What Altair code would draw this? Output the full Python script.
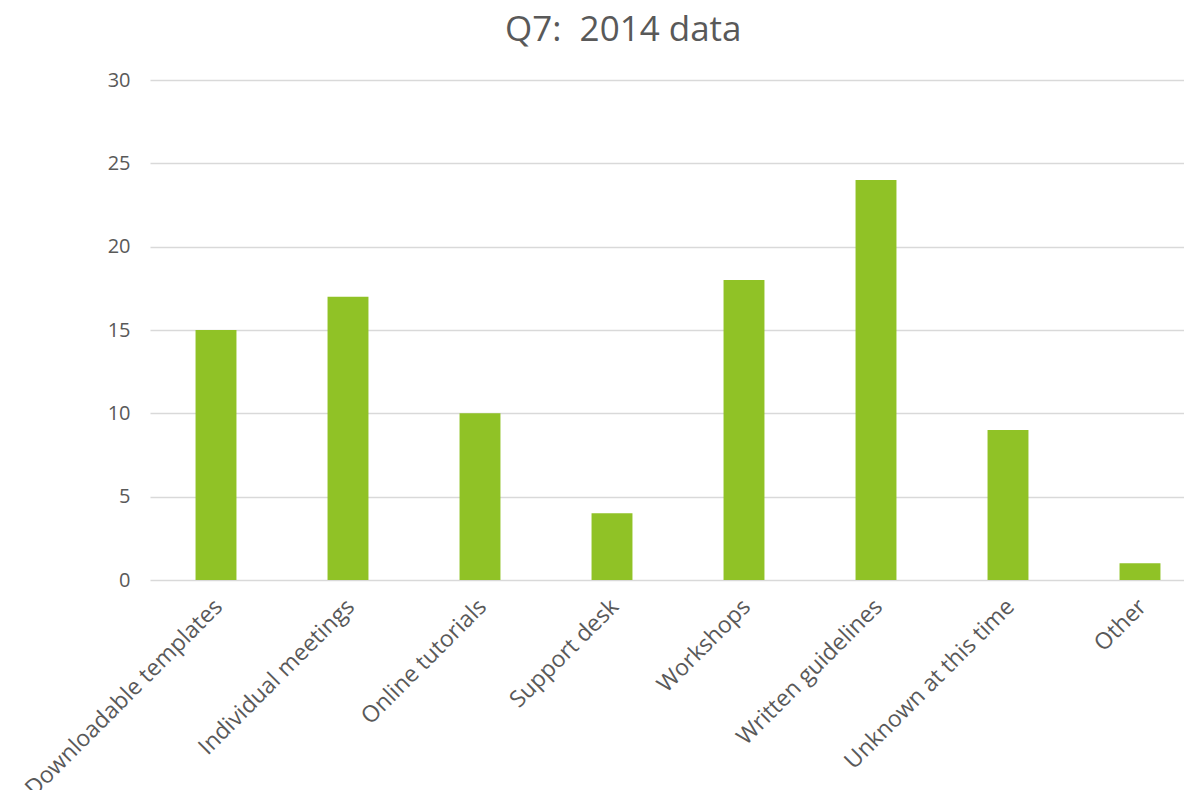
import altair as alt
import pandas as pd

categories = ["Downloadable templates", "Individual meetings", "Online tutorials",
              "Support desk", "Workshops", "Written guidelines",
              "Unknown at this time", "Other"]
values = [15, 17, 10, 4, 18, 24, 9, 1]

df = pd.DataFrame({"category": categories, "value": values})

FONT = "Open Sans"
TEXT = "#595959"

chart = alt.Chart(df).mark_bar(color="#90C226").encode(
    x=alt.X("category:N", sort=categories, title=None,
            scale=alt.Scale(paddingInner=0.69, paddingOuter=0.345, range=[0, 1056]),
            axis=alt.Axis(labelAngle=-45, labelFontSize=23, labelColor=TEXT,
                          labelFont=FONT, ticks=False, domain=False,
                          labelPadding=15, labelOffset=-5, labelLimit=500)),
    y=alt.Y("value:Q", title=None,
            scale=alt.Scale(domain=[0, 30]),
            axis=alt.Axis(values=[0, 5, 10, 15, 20, 25, 30], labelFontSize=20,
                          labelColor=TEXT, labelFont=FONT, ticks=False,
                          domain=False, gridColor="#D9D9D9", gridWidth=1.5,
                          labelPadding=20)),
).properties(
    width=1034, height=500,
    title=alt.TitleParams("Q7:\u00a0 2014 data", fontSize=35, font=FONT, color=TEXT,
                          fontWeight="normal", anchor="start", frame="group",
                          dx=355, offset=22),
    autosize=alt.AutoSizeParams(type="none"),
    padding={"left": 142, "top": 72, "right": 0, "bottom": 210},
).configure_view(stroke=None).configure_axisX(grid=False)

chart.save("out.html", embed_options={"renderer": "svg", "actions": False})
